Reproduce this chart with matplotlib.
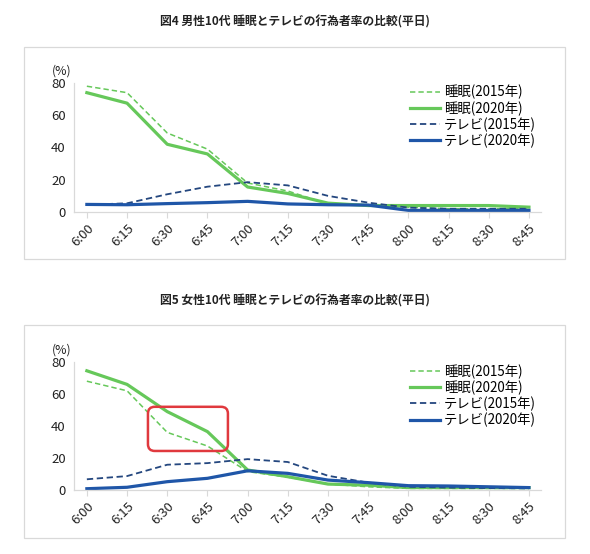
import matplotlib
matplotlib.use("Agg")
import matplotlib.pyplot as plt
from matplotlib.patches import Rectangle, FancyBboxPatch

plt.rcParams['font.family'] = ['Noto Sans CJK JP', 'DejaVu Sans']

# データ
jikan = ['6:00', '6:15', '6:30', '6:45', '7:00', '7:15', '7:30', '7:45',
         '8:00', '8:15', '8:30', '8:45']

# 図4 男性10代
dansei_suimin_2015 = [78, 74, 49, 39, 18, 13, 5, 4, 3, 2, 2, 2]
dansei_suimin_2020 = [74, 67.5, 42, 36, 15.5, 11.5, 5.5, 4, 4, 4, 4, 3]
dansei_tv_2015 = [4.5, 5.4, 11, 15.7, 18.5, 16.5, 10, 5.8, 2.7, 2, 2, 2]
dansei_tv_2020 = [4.7, 4.5, 5.2, 5.8, 6.6, 5, 4.5, 4.3, 1, 1, 1, 1]

# 図5 女性10代
josei_suimin_2015 = [68, 62, 36, 27.5, 11.5, 8, 3.7, 2, 1, 1, 1, 1]
josei_suimin_2020 = [74.5, 66, 49, 36.5, 12.5, 8.3, 3.7, 3, 1.5, 1.5, 1.5, 1.5]
josei_tv_2015 = [6.7, 8.7, 15.8, 16.8, 19.3, 17.5, 8.9, 4.6, 2, 1.5, 1.2, 1]
josei_tv_2020 = [0.8, 1.7, 5.2, 7.3, 12, 10.4, 6.2, 4.6, 2.7, 2.5, 2, 1.5]

tytuly = ['図4 男性10代 睡眠とテレビの行為者率の比較(平日)',
          '図5 女性10代 睡眠とテレビの行為者率の比較(平日)']
etykiety = ['睡眠(2015年)', '睡眠(2020年)', 'テレビ(2015年)', 'テレビ(2020年)']

W, H = 590, 554
fig = plt.figure(figsize=(W / 100, H / 100), dpi=100)

GREEN = '#66c85a'
NAVY_D = '#24477f'
NAVY = '#1f56a8'
GRID = '#d9d9d9'


def px(x0, y0, x1, y1):
    # piksele -> wspolrzedne figury [left, bottom, width, height]
    return [x0 / W, 1 - y1 / H, (x1 - x0) / W, (y1 - y0) / H]


def panel(ramka, osie, tytul_y, dane, tytul):
    r = px(*ramka)
    fig.patches.append(Rectangle((r[0], r[1]), r[2], r[3], transform=fig.transFigure,
                                 fill=False, edgecolor=GRID, linewidth=0.9))
    fig.text(0.5, 1 - tytul_y / H, tytul, ha='center', va='center',
             fontsize=8.5, fontweight='bold', color='#222222')
    ax = fig.add_axes(px(*osie))
    x = range(len(jikan))
    s15, s20, t15, t20 = dane
    ax.plot(x, s15, color=GREEN, lw=1.1, ls=(0, (3.5, 2)), label=etykiety[0])
    ax.plot(x, s20, color=GREEN, lw=2.3, label=etykiety[1])
    ax.plot(x, t15, color=NAVY_D, lw=1.3, ls=(0, (3.5, 2)), label=etykiety[2])
    ax.plot(x, t20, color=NAVY, lw=2.3, label=etykiety[3])
    ax.set_xlim(-0.32, 11.3)
    ax.set_ylim(0, 80)
    ax.set_yticks([0, 20, 40, 60, 80])
    ax.set_xticks(list(x))
    ax.set_xticklabels(jikan, rotation=45, ha='right', rotation_mode='anchor')
    ax.tick_params(axis='y', length=0, labelsize=9.5, pad=6, colors='#222222')
    ax.tick_params(axis='x', length=4, labelsize=9.5, pad=3, colors=GRID,
                   labelcolor='#222222')
    for s in ['top', 'right']:
        ax.spines[s].set_visible(False)
    for s in ['left', 'bottom']:
        ax.spines[s].set_color(GRID)
        ax.spines[s].set_linewidth(0.9)
    ax.text(-0.026, 1.045, '(%)', transform=ax.transAxes, fontsize=8.8,
            ha='center', va='bottom', color='#222222')
    ax.legend(loc='upper left', bbox_to_anchor=(0.709, 1.025), frameon=False,
              fontsize=9.6, handlelength=2.2, handletextpad=0.3, labelspacing=0.12,
              borderaxespad=0)
    return ax


panel((24, 47, 565, 259), (74, 83, 541, 212), 22,
      (dansei_suimin_2015, dansei_suimin_2020, dansei_tv_2015, dansei_tv_2020), tytuly[0])
ax2 = panel((24, 325, 565, 538), (74, 362, 541, 490), 301,
            (josei_suimin_2015, josei_suimin_2020, josei_tv_2015, josei_tv_2020), tytuly[1])

# czerwona ramka (adnotacja)
ax2.add_patch(FancyBboxPatch((1.52, 24.4), 1.99, 27.6,
                             boxstyle='round,pad=0,rounding_size=0.17',
                             mutation_aspect=25, fill=False,
                             edgecolor='#e0393e', linewidth=1.8, zorder=5))

fig.savefig('out.png', dpi=100, facecolor='white')
